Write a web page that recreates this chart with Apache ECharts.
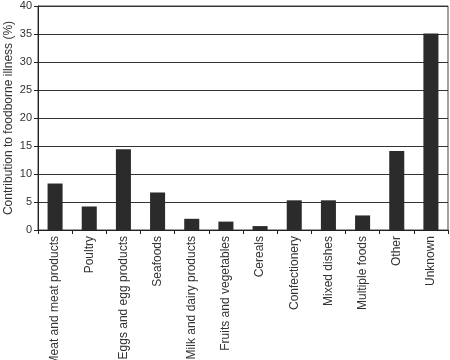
<!DOCTYPE html>
<html>
<head>
<meta charset="utf-8">
<script src="https://cdn.jsdelivr.net/npm/echarts@6/dist/echarts.min.js"></script>
<style>
  html, body { margin: 0; padding: 0; background: #fff; }
  #chart { width: 450px; height: 360px; }
</style>
</head>
<body>
<div id="chart"></div>
<script>
// categories and values
const categories = [
  'Meat and meat products', 'Poultry', 'Eggs and egg products', 'Seafoods',
  'Milk and dairy products', 'Fruits and vegetables', 'Cereals', 'Confectionery',
  'Mixed dishes', 'Multiple foods', 'Other', 'Unknown'
];
const contribution = [8.3, 4.2, 14.4, 6.7, 2.0, 1.5, 0.7, 5.3, 5.3, 2.6, 14.1, 35.1];

const myChart = echarts.init(document.getElementById('chart'));
myChart.setOption({
  animation: false,
  textStyle: { fontFamily: 'Liberation Sans' },
  grid: {
    left: 38, right: 2, top: 6, bottom: 130,
    containLabel: false, outerBoundsMode: 'none',
    show: true, borderColor: '#444', borderWidth: 1
  },
  xAxis: {
    type: 'category',
    data: categories,
    axisLine: { lineStyle: { color: '#222' } },
    axisTick: { show: true, length: 4, lineStyle: { color: '#222' } },
    axisLabel: { rotate: 90, interval: 0, fontSize: 12, color: '#333', margin: 6 }
  },
  yAxis: {
    type: 'value',
    min: 0,
    max: 40,
    interval: 5,
    name: 'Contribution to foodborne illness (%)',
    nameLocation: 'middle',
    nameGap: 23,
    nameMoveOverlap: false,
    nameTextStyle: { fontSize: 12, color: '#333' },
    axisLine: { show: true, lineStyle: { color: '#222' } },
    axisTick: { show: true, length: 4, lineStyle: { color: '#222' } },
    axisLabel: { fontSize: 11, color: '#333', margin: 6 },
    splitLine: { lineStyle: { color: '#333', width: 1 } }
  },
  series: [{
    type: 'bar',
    data: contribution,
    barWidth: '44%',
    itemStyle: { color: '#2b2b2b' }
  }]
});
</script>
</body>
</html>
